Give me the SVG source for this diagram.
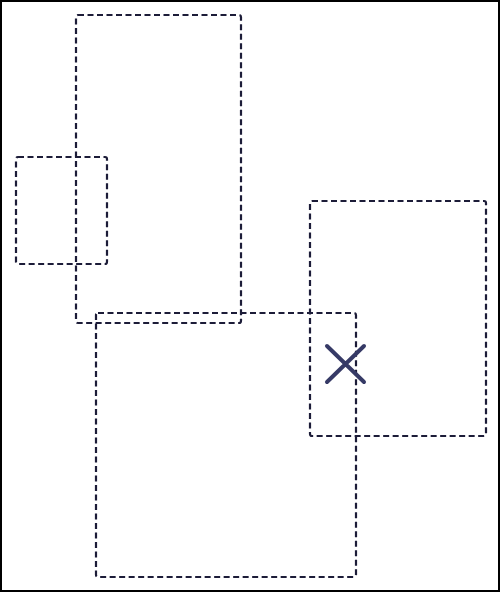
<svg xmlns="http://www.w3.org/2000/svg" width="500" height="592" viewBox="0 0 500 592">
<style>
.box{fill:none;stroke:#1c1c38;stroke-width:2.2;stroke-dasharray:6 3.5}
.mark{stroke:#363a66;stroke-width:4;stroke-linecap:round;fill:none}
</style>
<rect x="0" y="0" width="500" height="592" fill="#ffffff"/>
<rect x="1" y="1" width="498" height="590" fill="none" stroke="#000" stroke-width="2"/>
<g id="node-tall"><rect class="box" x="76" y="15" width="165" height="308" rx="2"/></g>
<g id="node-small"><rect class="box" x="16" y="157" width="91" height="107" rx="2"/></g>
<g id="node-right"><rect class="box" x="310" y="201" width="176" height="235" rx="2"/></g>
<g id="node-bottom"><rect class="box" x="96" y="313" width="260" height="264" rx="2"/></g>
<g id="marker-x"><path class="mark" d="M327 346 L364 382 M364 346 L327 382"/></g>
<g id="connectors"></g>
</svg>
